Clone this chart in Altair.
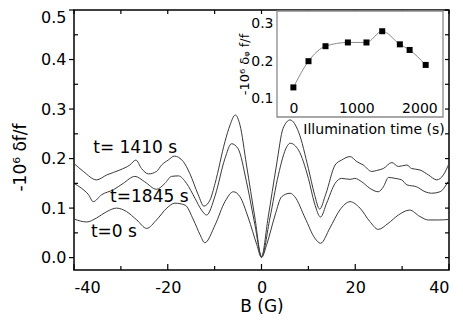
import altair as alt
import pandas as pd

# ---- main curves: B (G) and -10^6 df/f ----
B_1410 = [-40, -38, -35.2, -33, -30.2, -28.1, -26.8, -25.6, -24.1, -22.4, -21.3, -19.9, -18.6, -16.7, -15.3,
          -13.5, -12.3, -11, -9.9, -7.8, -6.7, -5.6, -4.6, -3.2, -1.4, 0, 1.4, 3.2, 4.6, 6.1, 7.9, 10, 11.3,
          12.4, 13.7, 15.7, 17.1, 18.9, 20.3, 21.7, 23.5, 24.6, 26, 27.8, 29.2, 31, 32, 33.8, 35.6, 37.4, 38.8, 40]
V_1410 = [0.190, 0.174, 0.157, 0.167, 0.177, 0.187, 0.197, 0.180, 0.169, 0.174, 0.187, 0.197, 0.205, 0.194, 0.170,
          0.127, 0.104, 0.116, 0.150, 0.234, 0.268, 0.288, 0.268, 0.187, 0.080, 0.002, 0.080, 0.187, 0.261, 0.278,
          0.254, 0.180, 0.128, 0.098, 0.128, 0.187, 0.197, 0.204, 0.194, 0.187, 0.174, 0.176, 0.180, 0.192, 0.184,
          0.187, 0.180, 0.177, 0.167, 0.157, 0.167, 0.190]

B_1845 = [-40, -38.4, -36.9, -35.9, -34.1, -31.6, -29.5, -27, -24.9, -22.4, -20.6, -19.2, -17.7, -16, -14.2,
          -12.8, -11.7, -9.9, -7.8, -6.4, -5, -3.2, -1.4, 0, 1.8, 3.6, 5.4, 6.1, 7.9, 10, 11.3, 12.6, 13.9, 15.7,
          17.1, 18.9, 19.9, 21.4, 23.1, 24.9, 26, 27.1, 28.5, 29.9, 31, 33.1, 34.9, 36.3, 38.1, 39.6, 40]
V_1845 = [0.150, 0.140, 0.127, 0.113, 0.127, 0.137, 0.150, 0.164, 0.153, 0.138, 0.150, 0.164, 0.165, 0.150, 0.120,
          0.096, 0.086, 0.125, 0.200, 0.230, 0.220, 0.153, 0.066, 0.002, 0.080, 0.167, 0.224, 0.231, 0.217, 0.160,
          0.110, 0.082, 0.110, 0.150, 0.160, 0.158, 0.160, 0.153, 0.140, 0.133, 0.143, 0.162, 0.160, 0.157, 0.147,
          0.143, 0.133, 0.130, 0.133, 0.150, 0.156]

B_0 = [-40, -37.3, -35.2, -33, -30.9, -28.8, -26.6, -24.5, -22.4, -20.2, -18.5, -16.3, -14.5, -13.1, -12.1,
       -9.9, -7.8, -6, -4.6, -2.8, -1, 0, 1.1, 2.9, 4.3, 6.1, 7.1, 9.3, 11.4, 12.6, 14.6, 16.7, 18.9, 21, 23.1,
       24.9, 27, 29.2, 31.6, 33.8, 35.6, 37.7, 40]
V_0 = [0.078, 0.072, 0.080, 0.093, 0.100, 0.093, 0.076, 0.059, 0.076, 0.100, 0.110, 0.106, 0.076, 0.046, 0.030,
       0.066, 0.113, 0.133, 0.123, 0.080, 0.026, 0.0, 0.026, 0.086, 0.123, 0.130, 0.123, 0.080, 0.039, 0.029,
       0.060, 0.096, 0.113, 0.100, 0.073, 0.057, 0.069, 0.086, 0.096, 0.083, 0.076, 0.076, 0.077]

# curve labels
LABELS = ["t= 1410 s", "t=1845 s", "t=0 s"]
LABEL_B = [-35.9, -32.3, -36.4]
LABEL_V = [0.222, 0.123, 0.051]

# ---- inset: illumination time vs -10^6 d_phi f/f ----
INSET_T = [0, 240, 510, 865, 1160, 1410, 1690, 1845, 2100]
INSET_V = [0.13, 0.20, 0.24, 0.25, 0.25, 0.28, 0.245, 0.23, 0.19]

# ticks
X_MAJOR = [-40, -20, 0, 20, 40]
X_MINOR = [-30, -10, 10, 30]
Y_MAJOR = [0.0, 0.1, 0.2, 0.3, 0.4, 0.5]
Y_MINOR = [0.05, 0.15, 0.25, 0.35, 0.45]
INSET_X_TICKS = [0, 1000, 2000]
INSET_Y_TICKS = [0.1, 0.2, 0.3]

W, H = 375, 260
FONT = "DejaVu Sans"

rows = []
for name, bs, vs in [("1410", B_1410, V_1410), ("1845", B_1845, V_1845), ("0", B_0, V_0)]:
    for b, v in zip(bs, vs):
        rows.append({"series": name, "B": b, "v": v})
curves_df = pd.DataFrame(rows)

xs = alt.Scale(domain=[-40, 40], nice=False, zero=False)
ys = alt.Scale(domain=[-0.025, 0.5], nice=False, zero=False)

curves = alt.Chart(curves_df).mark_line(color="#3a3a3a", strokeWidth=1, interpolate="monotone").encode(
    x=alt.X("B:Q", scale=xs, axis=alt.Axis(orient="bottom", values=X_MAJOR, labelExpr="'' + datum.value",
                                         title="B (G)", ticks=False, tickSize=0, domain=False, grid=False,
                                         labelPadding=9, labelFontSize=16, titleFontSize=17, titleY=28,
                                         titleBaseline="top")),
    y=alt.Y("v:Q", scale=ys, axis=alt.Axis(orient="left", values=Y_MAJOR, format=".1f", title="-10⁶ δf/f",
                                         ticks=False, tickSize=0, domain=False, grid=False, labelPadding=8,
                                         labelFontSize=16,
                                         labelOffset={"condition": {"test": "datum.value >= 0.49", "value": 7},
                                                      "value": 0},
                                         titleFontSize=17, titleX=-54, titleY=147, titleBaseline="middle")),
    detail="series:N",
)

labels = alt.Chart(pd.DataFrame({"t": LABELS, "B": LABEL_B, "v": LABEL_V})).mark_text(
    align="left", baseline="middle", fontSize=17, font=FONT, color="black"
).encode(x=alt.X("B:Q", scale=xs, axis=None), y=alt.Y("v:Q", scale=ys, axis=None), text="t:N")


def xticks(vals, y0, y1):
    return alt.Chart(pd.DataFrame({"v": vals})).mark_rule(color="black", strokeWidth=1.2).encode(
        x=alt.X("v:Q", scale=xs, axis=None), y=alt.value(y0), y2=alt.value(y1))


def yticks(vals, x0, x1):
    return alt.Chart(pd.DataFrame({"v": vals})).mark_rule(color="black", strokeWidth=1.2).encode(
        y=alt.Y("v:Q", scale=ys, axis=None), x=alt.value(x0), x2=alt.value(x1))


tick_layers = [
    xticks(X_MAJOR, H, H - 6), xticks(X_MINOR, H, H - 4),
    xticks(X_MAJOR + X_MINOR, 0, 4),
    yticks(Y_MAJOR, -5, 0), yticks(Y_MINOR, 0, 4),
    yticks(Y_MAJOR + Y_MINOR, W, W - 4),
]

# inset
IX0, IX1, IY0, IY1 = 203, 369, 1, 107
ixs = alt.Scale(domain=[-260, 2375], range=[IX0, IX1], nice=False, zero=False)
iys = alt.Scale(domain=[0.051, 0.334], range=[IY1, IY0], nice=False, zero=False)

inset_df = pd.DataFrame({"t": INSET_T, "v": INSET_V})

frame = alt.Chart(pd.DataFrame({"a": [0]})).mark_rect(fill="white", stroke="#8a8a8a", strokeWidth=1.3).encode(
    x=alt.value(IX0), x2=alt.value(IX1), y=alt.value(IY0), y2=alt.value(IY1))

inset_line = alt.Chart(inset_df).mark_line(color="#8a8a8a", strokeWidth=1, interpolate="monotone").encode(
    x=alt.X("t:Q", scale=ixs, axis=alt.Axis(orient="bottom", offset=IY1 - H, values=INSET_X_TICKS,
                                          labelExpr="'' + datum.value", ticks=False,
                                          tickSize=0, domain=False, grid=False, labelPadding=-16, zindex=2,
                                          labelFontSize=14, title="Illumination time (s)", titleFontSize=14,
                                          titleX=299.5, titleY=5, titleBaseline="top")),
    y=alt.Y("v:Q", scale=iys, axis=alt.Axis(orient="left", offset=-IX0, values=INSET_Y_TICKS, format=".1f",
                                          ticks=False, tickSize=0, domain=False, grid=False, labelPadding=4,
                                          zindex=2, labelFontSize=14, title="-10⁶ δᵩ f/f", titleFontSize=13,
                                          titleX=-33, titleBaseline="middle")),
)
inset_pts = alt.Chart(inset_df).mark_square(color="black", size=36, opacity=1).encode(
    x=alt.X("t:Q", scale=ixs, axis=None), y=alt.Y("v:Q", scale=iys, axis=None))

chart = alt.layer(curves, labels, *tick_layers, frame, inset_line, inset_pts).resolve_scale(
    x="independent", y="independent"
).properties(
    width=W, height=H,
    autosize=alt.AutoSizeParams(type="none"),
    padding={"left": 66, "top": 2, "right": 5, "bottom": 48},
).configure_axis(
    labelFont=FONT, titleFont=FONT, labelColor="black", titleColor="black", titleFontWeight="normal"
).configure_view(stroke="black", strokeWidth=1.5)

chart.save("out.html", embed_options={"renderer": "svg", "actions": False})
